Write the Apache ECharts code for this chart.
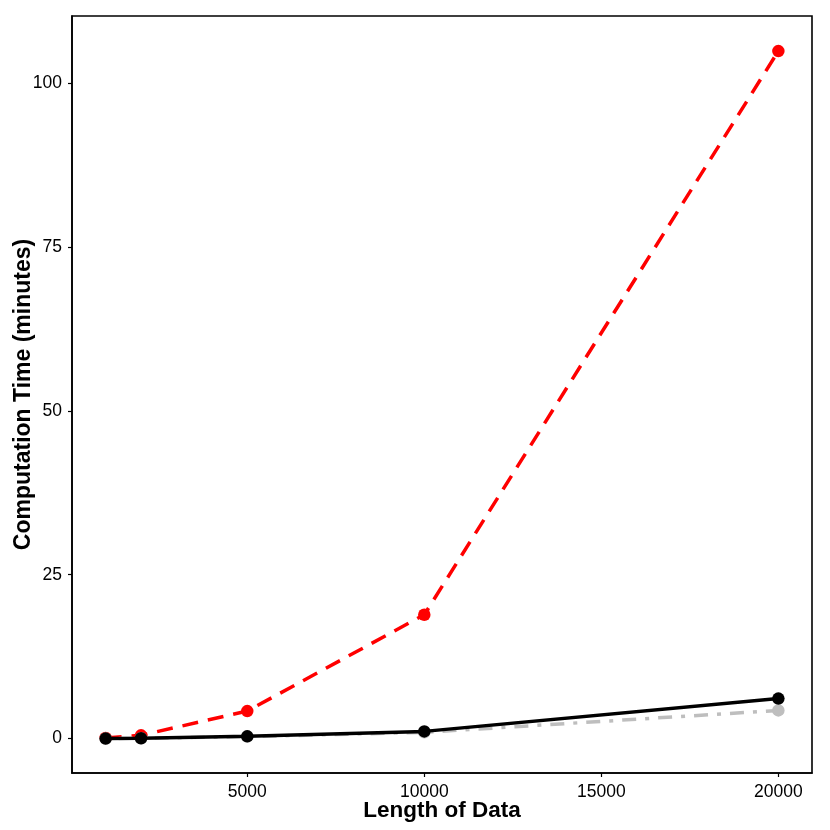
<!DOCTYPE html>
<html>
<head>
<meta charset="utf-8">
<script src="https://cdn.jsdelivr.net/npm/echarts@6/dist/echarts.min.js"></script>
<style>
html,body{margin:0;padding:0;background:#fff;}
#chart{width:830px;height:830px;}
</style>
</head>
<body>
<div id="chart"></div>
<script>
var lengths = [1000, 2000, 5000, 10000, 20000];
var redTimes = [0.1, 0.5, 4.2, 18.9, 104.9];
var grayTimes = [0, 0.05, 0.3, 0.95, 4.3];
var blackTimes = [0, 0.05, 0.35, 1.1, 6.1];
var xTicks = [5000, 10000, 15000, 20000];
var yTicks = [0, 25, 50, 75, 100];

function pairs(ys) { return lengths.map(function (x, i) { return [x, ys[i]]; }); }
function plain(v) { return String(v); }

var chart = echarts.init(document.getElementById('chart'), null, {renderer: 'canvas'});
var font = 'Liberation Sans, Arial, Helvetica, sans-serif';
chart.setOption({
  animation: false,
  backgroundColor: '#fff',
  grid: {left: 72, right: 18, top: 16, bottom: 57, outerBoundsMode: 'none', containLabel: false,
         show: true, borderColor: '#000', borderWidth: 1.6, backgroundColor: 'transparent'},
  xAxis: {
    type: 'value', min: 50, max: 20950,
    name: 'Length of Data', nameLocation: 'middle', nameGap: 26, nameMoveOverlap: false,
    nameTextStyle: {fontFamily: font, fontWeight: 'bold', fontSize: 22.5, color: '#000'},
    axisLine: {show: true, onZero: false, lineStyle: {color: '#000', width: 1.6}},
    axisTick: {show: true, length: 4, lineStyle: {color: '#000', width: 1.2}, customValues: xTicks},
    axisLabel: {fontFamily: font, fontSize: 17.5, color: '#000', margin: 10, customValues: xTicks, formatter: plain},
    splitLine: {show: false}
  },
  yAxis: {
    type: 'value', min: -5.25, max: 110.25,
    name: 'Computation Time (minutes)', nameLocation: 'middle', nameGap: 37, nameMoveOverlap: false,
    nameTextStyle: {fontFamily: font, fontWeight: 'bold', fontSize: 23, color: '#000'},
    axisLine: {show: true, onZero: false, lineStyle: {color: '#000', width: 1.6}},
    axisTick: {show: true, length: 4, lineStyle: {color: '#000', width: 1.2}, customValues: yTicks},
    axisLabel: {fontFamily: font, fontSize: 17.5, color: '#000', margin: 10, customValues: yTicks, formatter: plain},
    splitLine: {show: false}
  },
  series: [
    {type: 'line', data: pairs(redTimes), symbol: 'circle', symbolSize: 12.5,
     itemStyle: {color: '#ff0000'}, lineStyle: {color: '#ff0000', width: 3.5, type: [16, 10]}, z: 2},
    {type: 'line', data: pairs(grayTimes), symbol: 'circle', symbolSize: 12.5,
     itemStyle: {color: '#bebebe'}, lineStyle: {color: '#bebebe', width: 3.5, type: [4, 9, 14, 9]}, z: 3},
    {type: 'line', data: pairs(blackTimes), symbol: 'circle', symbolSize: 12.5,
     itemStyle: {color: '#000'}, lineStyle: {color: '#000', width: 3.5}, z: 4}
  ]
});
</script>
</body>
</html>
